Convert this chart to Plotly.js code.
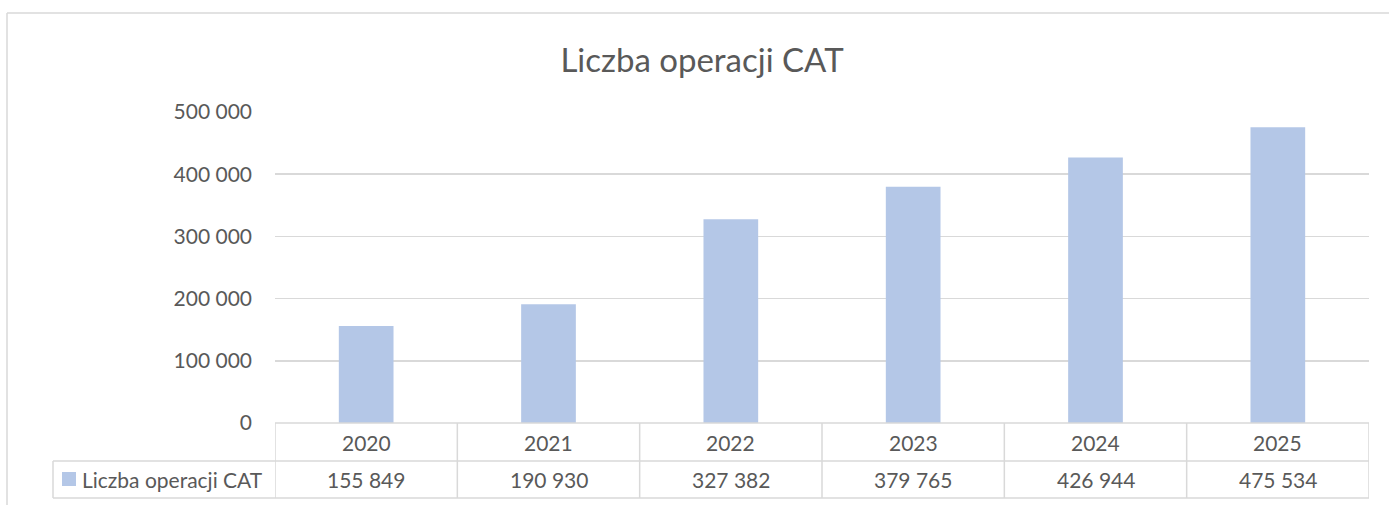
<!DOCTYPE html>
<html><head><meta charset="utf-8">
<script src="https://cdn.plot.ly/plotly-3.0.1.min.js"></script>
<style>html,body{margin:0;padding:0;background:#fff;}#chart{width:1389px;height:505px;}</style>
</head><body><div id="chart"></div>
<script>
const categories = ['2020','2021','2022','2023','2024','2025'];
const values = [155849, 190930, 327382, 379765, 426944, 475534];
const seriesName = 'Liczba operacji CAT';
const yTickVals = [0, 100000, 200000, 300000, 400000, 500000];
const yTickText = ['0', '100 000', '200 000', '300 000', '400 000', '500 000'];

const FONT = 'Lato, "Open Sans", sans-serif';
const TXT = '#595959';
const LINE = '#d9d9d9';
const BAR = '#b4c7e7';
const FS = 21;

function fmt(v){ return String(v).replace(/\B(?=(\d{3})+(?!\d))/g, ' '); }

const W = 1389, H = 505;
const mL = 275, mR = 20, mT = 112, mB = 82;
const pw = W - mL - mR, ph = H - mT - mB;
const px = p => (p - mL) / pw;          // pixel x -> paper
const py = p => (H - mB - p) / ph;      // pixel y -> paper

const rowMid = py(461), rowBot = py(498), tblLeft = px(53);

const shapes = [];
const ann = [];
// chart outer border (left and top)
shapes.push({type:'line', xref:'paper', yref:'paper', x0:px(7), x1:px(7), y0:py(13), y1:py(520), line:{color:LINE, width:1.5}});
shapes.push({type:'line', xref:'paper', yref:'paper', x0:px(7), x1:px(1400), y0:py(13), y1:py(13), line:{color:LINE, width:1.5}});
// table horizontal lines
shapes.push({type:'line', xref:'paper', yref:'paper', x0:0, x1:1, y0:0, y1:0, line:{color:LINE, width:1.5}});
shapes.push({type:'line', xref:'paper', yref:'paper', x0:tblLeft, x1:1, y0:rowMid, y1:rowMid, line:{color:LINE, width:1.5}});
shapes.push({type:'line', xref:'paper', yref:'paper', x0:tblLeft, x1:1, y0:rowBot, y1:rowBot, line:{color:LINE, width:1.5}});
shapes.push({type:'line', xref:'paper', yref:'paper', x0:tblLeft, x1:tblLeft, y0:rowMid, y1:rowBot, line:{color:LINE, width:1.5}});
// vertical separators at category boundaries
for (let i = 0; i <= categories.length; i++) {
  shapes.push({type:'line', xref:'x', yref:'paper', x0:i-0.5, x1:i-0.5, y0:0, y1:rowBot, line:{color:LINE, width:1.5}});
}
// legend key
shapes.push({type:'rect', xref:'paper', yref:'paper', x0:px(62), x1:px(76), y0:py(486), y1:py(472), fillcolor:BAR, line:{width:0}});
ann.push({xref:'paper', yref:'paper', x:px(80), y:(rowMid+rowBot)/2, xanchor:'left', yanchor:'middle', text:seriesName, showarrow:false, font:{family:FONT, size:FS, color:TXT}});
categories.forEach((c, i) => {
  ann.push({xref:'x', yref:'paper', x:i, y:(0+rowMid)/2, xanchor:'center', yanchor:'middle', text:c, showarrow:false, font:{family:FONT, size:FS, color:TXT}});
  ann.push({xref:'x', yref:'paper', x:i, y:(rowMid+rowBot)/2, xanchor:'center', yanchor:'middle', text:fmt(values[i]), showarrow:false, font:{family:FONT, size:FS, color:TXT}});
});

const data = [{type:'bar', x:categories.map((c,i)=>i), y:values, name:seriesName, marker:{color:BAR}, width:0.3, hoverinfo:'skip'}];

const layout = {
  width:W, height:H,
  margin:{l:mL, r:mR, t:mT, b:mB, pad:0},
  paper_bgcolor:'#fff', plot_bgcolor:'#fff',
  showlegend:false,
  title:{text:'Liczba operacji CAT', x:(702)/W, xanchor:'center', y:1-60/H, yanchor:'middle', font:{family:FONT, size:33, color:TXT}},
  xaxis:{range:[-0.5, 5.5], showticklabels:false, showgrid:false, zeroline:false, ticks:'', showline:false, fixedrange:true},
  yaxis:{range:[0, 500000], tickvals:yTickVals, ticktext:yTickText, showgrid:true, gridcolor:LINE, gridwidth:1.5, zeroline:false, showline:false, ticks:'', ticklabelstandoff:22, tickfont:{family:FONT, size:FS, color:TXT}, fixedrange:true},
  shapes:shapes, annotations:ann
};
Plotly.newPlot('chart', data, layout, {displayModeBar:false, staticPlot:true});
</script></body></html>
